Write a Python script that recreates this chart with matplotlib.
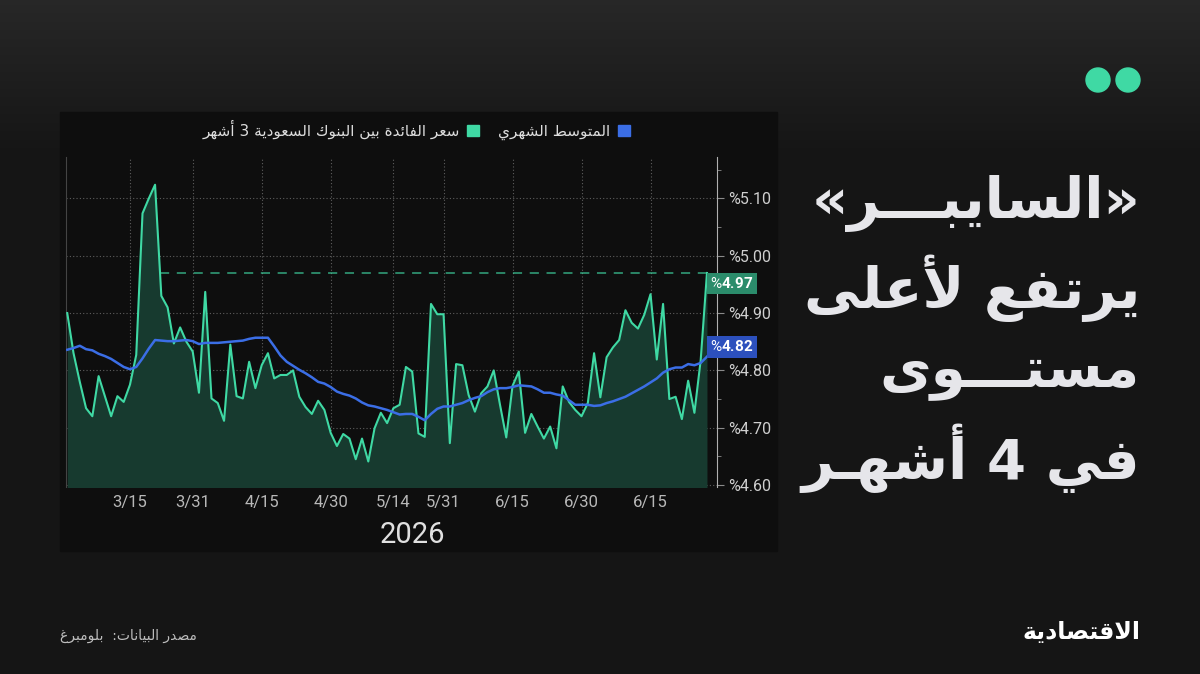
import re
import numpy as np
import matplotlib
matplotlib.use("Agg")
import matplotlib.pyplot as plt
from matplotlib.patches import Rectangle, Circle, Patch

plt.rcParams.update({"font.family": ["Roboto", "DejaVu Sans"], "mathtext.fontset": "custom",
                     "mathtext.rm": "Roboto", "mathtext.bf": "Roboto:bold"})

# 3M SAIBOR (daily) and its monthly average
rate = [4.90, 4.83, 4.78, 4.734, 4.72, 4.79, 4.755, 4.72, 4.755, 4.745,
        4.775, 4.827, 5.074, 5.10, 5.124, 4.93, 4.91, 4.847, 4.875, 4.85,
        4.833, 4.761, 4.937, 4.751, 4.743, 4.712, 4.845, 4.755, 4.751, 4.815,
        4.769, 4.809, 4.83, 4.786, 4.792, 4.792, 4.80, 4.754, 4.736, 4.724,
        4.747, 4.731, 4.691, 4.668, 4.689, 4.681, 4.645, 4.681, 4.641, 4.699,
        4.726, 4.708, 4.734, 4.74, 4.806, 4.798, 4.69, 4.684, 4.916, 4.898,
        4.898, 4.673, 4.811, 4.809, 4.757, 4.728, 4.76, 4.772, 4.80, 4.74,
        4.683, 4.773, 4.798, 4.691, 4.724, 4.702, 4.681, 4.702, 4.664, 4.772,
        4.745, 4.731, 4.72, 4.743, 4.83, 4.753, 4.823, 4.84, 4.853, 4.905,
        4.883, 4.873, 4.897, 4.933, 4.819, 4.916, 4.75, 4.754, 4.715, 4.782,
        4.726, 4.818, 4.97]
avg = [4.836, 4.839, 4.843, 4.837, 4.835, 4.829, 4.825, 4.820, 4.813, 4.806,
       4.802, 4.806, 4.821, 4.838, 4.853, 4.852, 4.851, 4.851, 4.852, 4.853,
       4.851, 4.846, 4.848, 4.848, 4.848, 4.849, 4.850, 4.851, 4.852, 4.855,
       4.857, 4.857, 4.857, 4.842, 4.826, 4.815, 4.808, 4.801, 4.795, 4.788,
       4.780, 4.777, 4.771, 4.763, 4.759, 4.756, 4.751, 4.744, 4.739, 4.737,
       4.734, 4.731, 4.727, 4.723, 4.724, 4.724, 4.719, 4.713, 4.724, 4.733,
       4.737, 4.737, 4.740, 4.743, 4.748, 4.752, 4.755, 4.762, 4.767, 4.769,
       4.769, 4.771, 4.774, 4.773, 4.772, 4.767, 4.761, 4.761, 4.758, 4.756,
       4.748, 4.740, 4.740, 4.740, 4.738, 4.739, 4.743, 4.746, 4.750, 4.754,
       4.760, 4.766, 4.772, 4.779, 4.786, 4.796, 4.802, 4.805, 4.805, 4.811,
       4.809, 4.813, 4.824]
tick_pos = [10, 20, 31, 42, 52, 60, 71, 82, 93]
tick_labels = ["3/15", "3/31", "4/15", "4/30", "5/14", "5/31", "6/15", "6/30", "6/15"]
y_ticks = [4.60, 4.70, 4.80, 4.90, 5.00, 5.10]
year = "2026"
legend_labels = ["سعر الفائدة بين البنوك السعودية 3 أشهر", "المتوسط الشهري"]
title_lines = ["«السايبـــر»", "يرتفع لأعلى", "مستـــوى", "في 4 أشهـر"]
source = "مصدر البيانات:  بلومبرغ"
brand = "الاقتصادية"

TEAL, BLUE, FILL = "#3fd9a4", "#3b6ee6", "#173a2f"
BG, PANEL = "#161616", "#0e0e0e"

# minimal Arabic shaping (presentation forms) + right-to-left ordering
FORMS = {"ء": (0xFE80, 1), "آ": (0xFE81, 2), "أ": (0xFE83, 2), "ؤ": (0xFE85, 2), "إ": (0xFE87, 2),
         "ئ": (0xFE89, 4), "ا": (0xFE8D, 2), "ب": (0xFE8F, 4), "ة": (0xFE93, 2), "ت": (0xFE95, 4),
         "ث": (0xFE99, 4), "ج": (0xFE9D, 4), "ح": (0xFEA1, 4), "خ": (0xFEA5, 4), "د": (0xFEA9, 2),
         "ذ": (0xFEAB, 2), "ر": (0xFEAD, 2), "ز": (0xFEAF, 2), "س": (0xFEB1, 4), "ش": (0xFEB5, 4),
         "ص": (0xFEB9, 4), "ض": (0xFEBD, 4), "ط": (0xFEC1, 4), "ظ": (0xFEC5, 4), "ع": (0xFEC9, 4),
         "غ": (0xFECD, 4), "ف": (0xFED1, 4), "ق": (0xFED5, 4), "ك": (0xFED9, 4), "ل": (0xFEDD, 4),
         "م": (0xFEE1, 4), "ن": (0xFEE5, 4), "ه": (0xFEE9, 4), "و": (0xFEED, 2), "ى": (0xFEEF, 2),
         "ي": (0xFEF1, 4)}
LAM_ALEF = {"آ": 0xFEF5, "أ": 0xFEF7, "إ": 0xFEF9, "ا": 0xFEFB}


def shape(s):
    items, i = [], 0
    while i < len(s):
        if s[i] == "ل" and i + 1 < len(s) and s[i + 1] in LAM_ALEF:
            items.append(("LA", LAM_ALEF[s[i + 1]])); i += 2
        else:
            items.append((s[i], None)); i += 1
    dual = lambda it: it[1] is None and (it[0] == "ـ" or FORMS.get(it[0], (0, 0))[1] == 4)
    takes = lambda it: it[1] is not None or it[0] == "ـ" or FORMS.get(it[0], (0, 0))[1] >= 2
    out = []
    for k, it in enumerate(items):
        jp = k > 0 and dual(items[k - 1]) and takes(it)
        jn = k + 1 < len(items) and dual(it) and takes(items[k + 1])
        if it[1] is not None:
            out.append(chr(it[1] + jp))
        elif it[0] in FORMS:
            base, n = FORMS[it[0]]
            idx = (3 if jp and jn else 1 if jp else 2 if jn else 0) if n == 4 else (1 if jp and n == 2 else 0)
            out.append(chr(base + idx))
        else:
            out.append(it[0])
    vis = "".join(out)[::-1].translate(str.maketrans("«»()", "»«)("))
    return re.sub(r"[0-9][0-9.,%]*", lambda m: m.group(0)[::-1], vis)


fig = plt.figure(figsize=(12, 6.74), dpi=100, facecolor=BG)

# background layer in pixel coordinates
bg = fig.add_axes([0, 0, 1, 1], zorder=0)
bg.set_xlim(0, 1200); bg.set_ylim(674, 0); bg.axis("off")
grad = np.linspace(0, 1, 674)[:, None]
top, base = np.array([0.155, 0.155, 0.155]), np.array([0.086, 0.086, 0.086])
img = base + (top - base) * np.clip(1 - grad / 0.22, 0, 1)[..., None]
bg.imshow(np.repeat(img, 2, axis=1), extent=[0, 1200, 674, 0], aspect="auto", zorder=0)
bg.add_patch(Rectangle((60, 112), 717, 439, color=PANEL, zorder=1))
for cx in (1098, 1128):
    bg.add_patch(Circle((cx, 80), 12, color=TEAL, zorder=2))
for k, line in enumerate(title_lines):
    bg.text(1140, 203 + k * 85, shape(line), ha="right", va="center", fontsize=40.5,
            fontweight="bold", color="#e6e6ea", family=["DejaVu Sans"], zorder=3)
bg.text(412, 535, year, ha="center", va="center", fontsize=21, color="#e0e0e0", zorder=3)
bg.text(60, 636, shape(source), ha="left", va="center", fontsize=10, color="#bdbdbd",
        family=["DejaVu Sans"], zorder=3)
bg.text(1140, 632, shape(brand), ha="right", va="center", fontsize=17, fontweight="bold",
        color="white", family=["DejaVu Sans"], zorder=3)

# chart
ax = fig.add_axes([66 / 1200, 1 - 487 / 674, 651 / 1200, 330 / 674], zorder=2)
ax.set_facecolor(PANEL)
x = np.arange(len(rate))
ax.set_xlim(-0.2, 103.6); ax.set_ylim(4.5965, 5.1724)
ax.fill_between(x, rate, 4.5, color=FILL, lw=0, zorder=1)
ax.plot(x, rate, color=TEAL, lw=1.5, zorder=3)
ax.plot(x, avg, color=BLUE, lw=1.8, zorder=4)

last = rate[-1]
i = max(k for k in range(len(rate) - 1) if rate[k] >= last)
x0 = i + (rate[i] - last) / (rate[i] - rate[i + 1])
ax.plot([x0, x[-1]], [last, last], color=TEAL, lw=1.1, ls=(0, (6, 5)), alpha=0.75, zorder=2)

ax.annotate(f"%$\\mathbf{{{last:.2f}}}$", (x[-1], last), xytext=(2.5, -7.5), textcoords="offset points",
            ha="left", va="center", fontsize=11, color="white", annotation_clip=False, zorder=6,
            bbox=dict(boxstyle="square,pad=0.22", fc="#2b8c6b", ec="none"))
ax.annotate(f"%$\\mathbf{{{avg[-1]:.2f}}}$", (x[-1], avg[-1]), xytext=(2.5, 7), textcoords="offset points",
            ha="left", va="center", fontsize=11, color="white", annotation_clip=False, zorder=6,
            bbox=dict(boxstyle="square,pad=0.22", fc="#2c50bd", ec="none"))

ax.yaxis.tick_right()
ax.set_yticks(y_ticks)
ax.set_yticklabels([f"%{v:.2f}" for v in y_ticks])
ax.set_yticks(np.arange(4.65, 5.16, 0.1), minor=True)
ax.tick_params(axis="y", which="major", length=5, color="#8a8a8a", labelcolor="#cfcfcf",
               labelsize=11.5, pad=3)
ax.tick_params(axis="y", which="minor", length=3, color="#8a8a8a")
ax.set_xticks(tick_pos)
ax.set_xticklabels(tick_labels)
ax.tick_params(axis="x", length=0, labelcolor="#b8b8b8", labelsize=12, pad=6)
ax.grid(True, color="#5e5e5e", ls=(0, (1, 2)), lw=0.8)
ax.set_axisbelow(True)
for s in ("top", "bottom"):
    ax.spines[s].set_visible(False)
ax.spines["right"].set_color("#b0b0b0")
ax.spines["left"].set_color("#444444")

handles = [Patch(color=TEAL), Patch(color=BLUE)]
fig.legend(handles, [shape(t) for t in legend_labels], loc="center", bbox_to_anchor=(416 / 1200, 1 - 130 / 674),
           ncol=2, markerfirst=False, frameon=False, handlelength=0.8, handleheight=0.8, handletextpad=0.5,
           columnspacing=1.2, prop={"family": ["DejaVu Sans"], "size": 11}, labelcolor="#dddddd")

fig.savefig("out.png", dpi=100, facecolor=BG)
